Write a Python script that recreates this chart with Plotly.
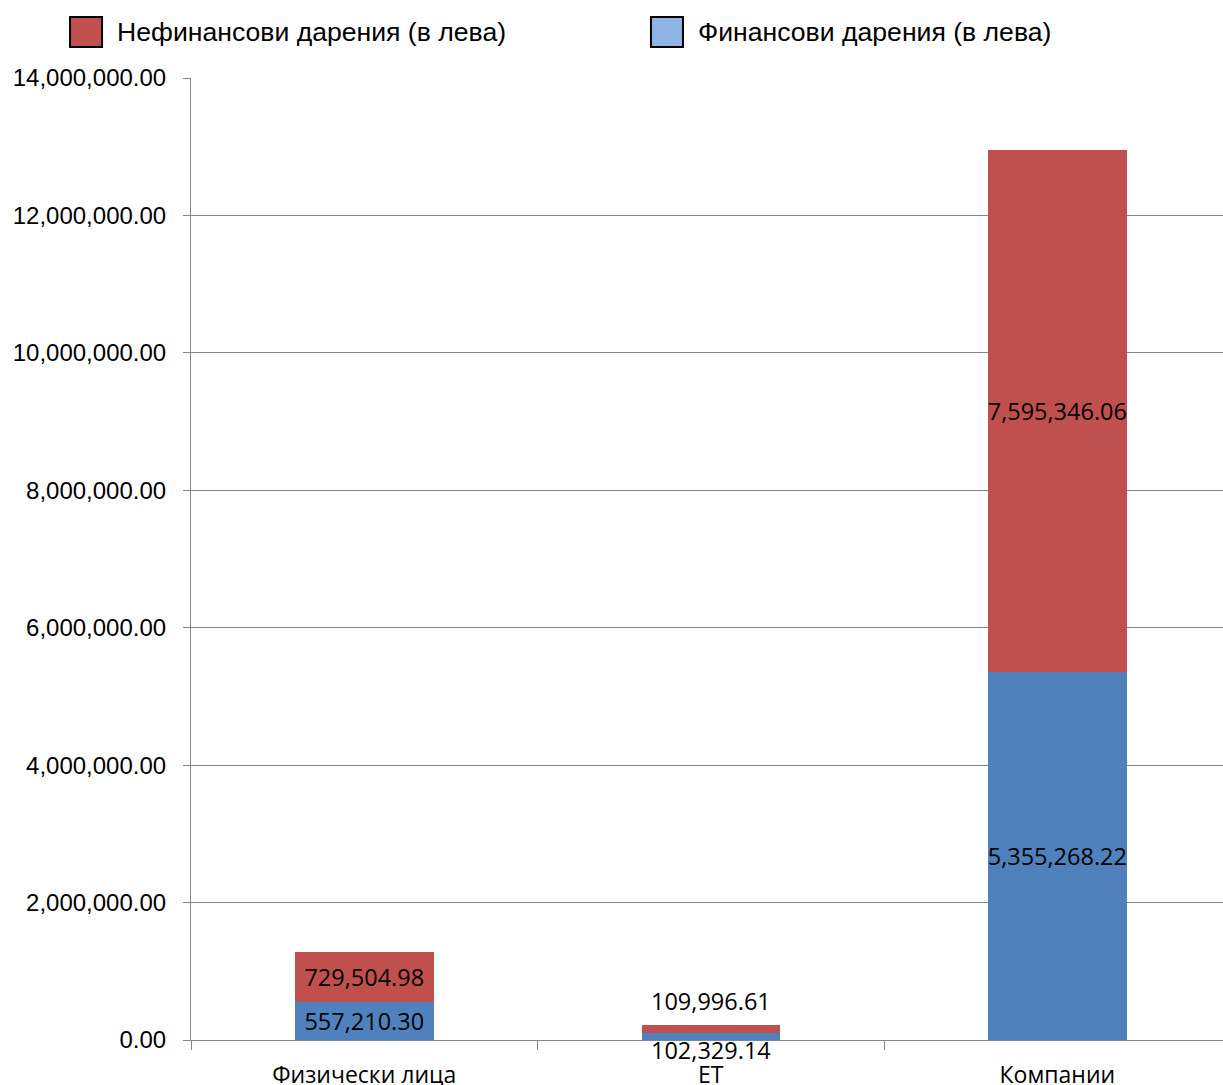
import plotly.graph_objects as go

# data
categories = ["Физически лица", "ЕТ", "Компании"]
financial = [557210.30, 102329.14, 5355268.22]
non_financial = [729504.98, 109996.61, 7595346.06]
series_names = ["Нефинансови дарения (в лева)", "Финансови дарения (в лева)"]
y_ticks = [0, 2000000, 4000000, 6000000, 8000000, 10000000, 12000000, 14000000]

RED = "#C0504D"
BLUE = "#4F81BD"
BLUE_LEGEND = "#8DB4E2"
GRID = "#868686"
LABEL_FONT = dict(family="Open Sans, Noto Sans, sans-serif", size=23.5, color="black")


def fmt(v):
    return f"{v:,.2f}"


# small bars (ET) get their labels as annotations, the others inside
inside = [v > 300000 for v in financial]

fig = go.Figure()
fig.add_trace(
    go.Bar(
        x=categories,
        y=financial,
        name=series_names[1],
        marker=dict(color=BLUE, line=dict(width=0)),
        text=[fmt(v) if ok else "" for v, ok in zip(financial, inside)],
        textposition="inside",
        insidetextanchor="middle",
        textangle=0,
        constraintext="none",
        textfont=LABEL_FONT,
        showlegend=False,
    )
)
fig.add_trace(
    go.Bar(
        x=categories,
        y=non_financial,
        name=series_names[0],
        marker=dict(color=RED, line=dict(width=0)),
        text=[fmt(v) if ok else "" for v, ok in zip(non_financial, inside)],
        textposition="inside",
        insidetextanchor="middle",
        textangle=0,
        constraintext="none",
        textfont=LABEL_FONT,
        showlegend=False,
    )
)

annotations = []
for cat, f, nf, ok in zip(categories, financial, non_financial, inside):
    if ok:
        continue
    annotations.append(
        dict(x=cat, y=f + nf, text=fmt(nf), showarrow=False, yanchor="bottom",
             yshift=6, font=LABEL_FONT)
    )
    annotations.append(
        dict(x=cat, y=0, text=fmt(f), showarrow=False, yanchor="middle",
             yshift=-10, font=LABEL_FONT)
    )

# custom legend (big boxed swatches)
legend_items = [(series_names[0], RED, -0.1172), (series_names[1], BLUE_LEGEND, 0.4457)]
shapes = []
for name, col, x0 in legend_items:
    shapes.append(
        dict(type="rect", xref="paper", yref="paper", x0=x0, x1=x0 + 0.031,
             y0=1.0322, y1=1.0634, fillcolor=col, line=dict(color="black", width=2))
    )
    annotations.append(
        dict(xref="paper", yref="paper", x=x0 + 0.0435, y=1.0478, text=name,
             showarrow=False, xanchor="left", yanchor="middle",
             font=dict(family="Liberation Sans, Arial, sans-serif", size=26.6, color="black"))
    )

fig.update_layout(
    barmode="stack",
    bargap=0.6,
    width=1223,
    height=1085,
    margin=dict(l=191, r=0, t=78, b=45, autoexpand=False),
    paper_bgcolor="white",
    plot_bgcolor="white",
    showlegend=False,
    shapes=shapes,
    annotations=annotations,
    font=dict(family="Liberation Sans, Arial, sans-serif", size=24, color="black"),
)
fig.update_yaxes(
    range=[0, 14000000],
    tickvals=y_ticks,
    tickformat=",.2f",
    showgrid=True,
    gridcolor=GRID,
    gridwidth=1,
    showline=True,
    linecolor=GRID,
    ticks="outside",
    ticklen=7,
    tickcolor=GRID,
    zeroline=False,
    automargin=False,
    ticklabelstandoff=12,
    tickfont=dict(family="Liberation Sans, Arial, sans-serif", size=24),
)
# the last category runs a little past the right edge, as in the original
fig.update_xaxes(
    range=[-0.5, 2.478],
    showline=True,
    linecolor=GRID,
    ticks="outside",
    tickson="boundaries",
    ticklen=9,
    tickcolor=GRID,
    automargin=False,
    ticklabelstandoff=14,
    tickfont=dict(family="Open Sans, Noto Sans, sans-serif", size=23, color="black"),
)

# drop the default 8px page margin so the figure sits at the window's corner
fig.write_html(
    "out.html",
    config={"displayModeBar": False},
    post_script="document.body.style.margin='0';document.body.style.overflow='hidden';",
)
